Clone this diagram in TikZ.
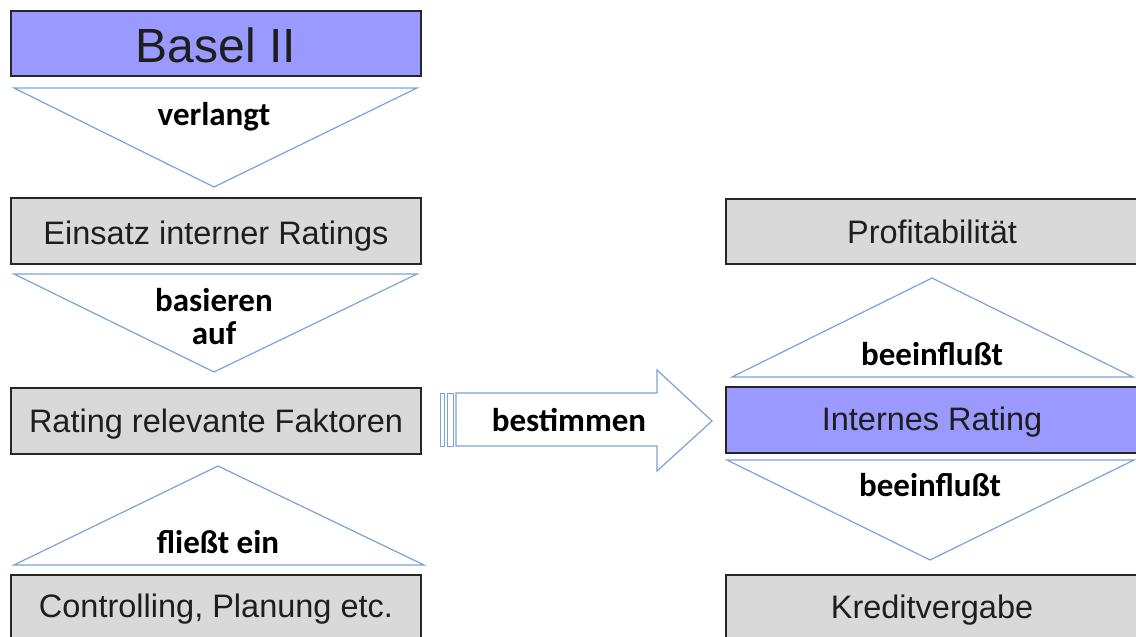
\documentclass[tikz,border=0pt]{standalone}
\usepackage{fontspec}
\setmainfont{Liberation Sans}
\newfontfamily\labfont{Carlito}
\definecolor{boxgray}{HTML}{D9D9D9}
\definecolor{boxblue}{HTML}{9999FF}
\definecolor{lineblue}{HTML}{7AA3D6}
\definecolor{txt}{HTML}{1E1E1E}
\begin{document}
\begin{tikzpicture}[x=1pt,y=-1pt,
  box/.style={draw=black!85, line width=1.4pt, fill=boxgray},
  hibox/.style={box, fill=boxblue},
  boxtext/.style={text=txt, font=\fontsize{32.5}{36}\selectfont, inner sep=0pt, anchor=base},
  tri/.style={draw=lineblue, line width=1.2pt, fill=white, line join=miter},
  lab/.style={font=\labfont\bfseries\fontsize{33}{32}\selectfont, inner sep=0pt, anchor=base}]
\useasboundingbox (0,0) rectangle (1136,637);
\clip (0,0) rectangle (1136,637);

% left column boxes
\draw[hibox] (11,11) rectangle (421,76);
\node[boxtext, font=\fontsize{48}{50}\selectfont] (basel) at (216,62) {Basel II};
\draw[box] (11,198) rectangle (421,264);
\node[boxtext] (einsatz) at (216,244) {Einsatz interner Ratings};
\draw[box] (11,388) rectangle (421,454);
\node[boxtext] (faktoren) at (216,432) {Rating relevante Faktoren};
\draw[box] (11,575) rectangle (421,660);
\node[boxtext] (controlling) at (216,617) {Controlling, Planung etc.};

% left column triangles
\draw[tri] (14,88) -- (417,88) -- (214,187) -- cycle;
\node[lab] (verlangt) at (214,125) {verlangt};
\draw[tri] (14,274) -- (417,274) -- (214,372) -- cycle;
\node[lab] (basieren) at (214,311) {basieren};
\node[lab] (auf) at (214,344) {auf};
\draw[tri] (14,565) -- (424,565) -- (218,466) -- cycle;
\node[lab] (fliesst) at (218,553) {flie\ss t ein};

% right column boxes
\draw[box] (726,199) rectangle (1145,264);
\node[boxtext] (profit) at (932,243) {Profitabilität};
\draw[hibox] (726,387) rectangle (1145,453);
\node[boxtext] (internes) at (932,430) {Internes Rating};
\draw[box] (726,575) rectangle (1145,660);
\node[boxtext] (kredit) at (932,618) {Kreditvergabe};

% right column triangles
\draw[tri] (732,377) -- (1133,377) -- (932,278) -- cycle;
\node[lab] (beein1) at (932,365) {beeinflu\ss t};
\draw[tri] (727,460) -- (1134,460) -- (930,560) -- cycle;
\node[lab] (beein2) at (930,496) {beeinflu\ss t};

% striped block arrow
\draw[tri, line width=1pt] (440,393) rectangle (444,446);
\draw[tri, line width=1pt] (447,393) rectangle (453,446);
\draw[tri] (456,393) -- (657,393) -- (657,370) -- (712,421)
  -- (657,471) -- (657,446) -- (456,446) -- cycle;
\node[lab] (bestimmen) at (569,431) {bestimmen};
\end{tikzpicture}
\end{document}
